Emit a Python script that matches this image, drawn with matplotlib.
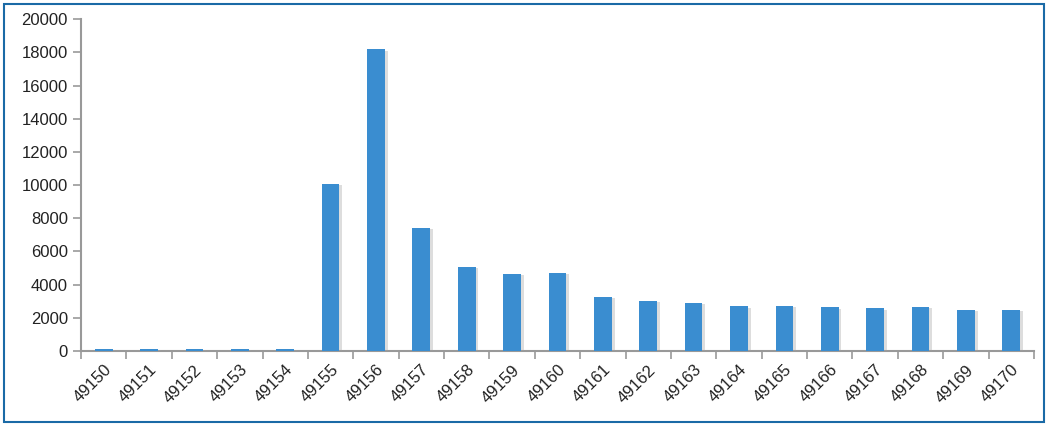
import matplotlib
matplotlib.use("Agg")
import matplotlib.pyplot as plt
import matplotlib.patheffects as pe
from matplotlib.patches import Rectangle
import numpy as np

ports = ["49150", "49151", "49152", "49153", "49154", "49155", "49156", "49157",
         "49158", "49159", "49160", "49161", "49162", "49163", "49164", "49165",
         "49166", "49167", "49168", "49169", "49170"]
counts = [120, 120, 120, 120, 120, 10060, 18190, 7420, 5070, 4640, 4700, 3260, 3010,
          2900, 2700, 2720, 2630, 2570, 2650, 2480, 2480]

plt.rcParams['font.family'] = ['Liberation Sans', 'DejaVu Sans']

fig = plt.figure(figsize=(10.49, 4.26), dpi=100)
ax = fig.add_axes([0.0772, 0.176, 0.9085, 0.779])

x = np.arange(len(ports))
bars = ax.bar(x, counts, width=0.39, color="#3a8dd0", zorder=3)
# ombre légère à droite des barres
for b in bars:
    b.set_path_effects([pe.SimplePatchShadow(offset=(2, -1), shadow_rgbFace="#a0a0a0", alpha=0.35), pe.Normal()])

ax.set_xlim(-0.5, len(ports) - 0.5)
ax.set_ylim(0, 20000)
ax.set_yticks(range(0, 20001, 2000))
ax.tick_params(axis="y", labelsize=12, labelcolor="#222222", length=6, width=1.2, color="#999999")

# ticks entre les catégories, labels centrés sous les barres
ax.set_xticks(np.arange(-0.5, len(ports), 1.0))
ax.set_xticklabels([])
ax.set_xticks(x, minor=True)
ax.set_xticklabels(ports, minor=True, rotation=45, ha="right", rotation_mode="anchor", fontsize=12, color="#222222")
ax.tick_params(axis="x", which="major", length=6, width=1.2, color="#999999")
ax.tick_params(axis="x", which="minor", length=0, pad=8)

for s in ["top", "right"]:
    ax.spines[s].set_visible(False)
for s in ["left", "bottom"]:
    ax.spines[s].set_color("#999999")
    ax.spines[s].set_linewidth(1.5)

fig.patches.append(Rectangle((4 / 1049, 4 / 426), 1040 / 1049, 418 / 426, transform=fig.transFigure,
                             fill=False, edgecolor="#1a6aa6", linewidth=1.5))

plt.savefig("out.png", dpi=100)
plt.close()
